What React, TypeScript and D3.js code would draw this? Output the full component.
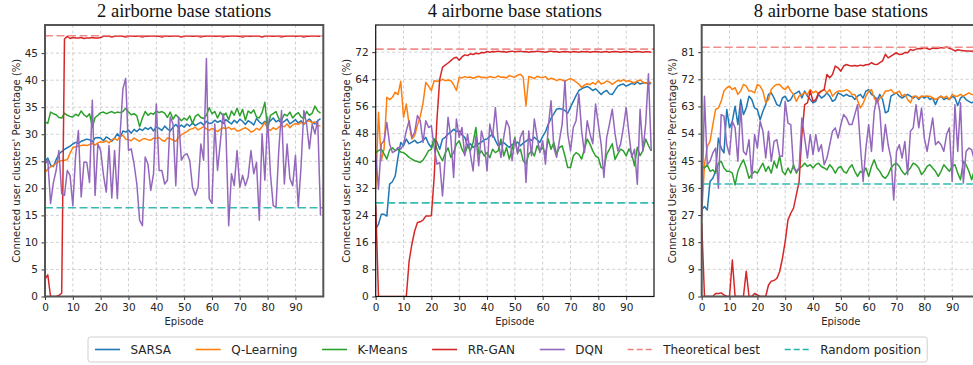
import { useEffect, useRef } from 'react';

import * as d3 from 'd3';

const W = 973;
const H = 365;
const FONT = '"DejaVu Sans", sans-serif';

const plotTop = 25;
const plotBottom = 296.5;
const plotW = 278.3;
const panelLeft = [45, 375.7, 701.7];

const episodes = d3.range(100);
const xTicks = [0, 10, 20, 30, 40, 50, 60, 70, 80, 90];

const titles = ['2 airborne base stations', '4 airborne base stations', '8 airborne base stations'];
const yLabels = [
    "Connected user clusters' Percentage (%)",
    "Connected user clusters' Percentage (%)",
    "Connected User clusters' Percentage (%)"
];
const yMaxes = [50.2, 80, 90];
const yTicks2 = [0, 5, 10, 15, 20, 25, 30, 35, 40, 45];
const yTicks4 = [0, 8, 16, 24, 32, 40, 48, 56, 64, 72];
const yTicks8 = [0, 9, 18, 27, 36, 45, 54, 63, 72, 81];

const seriesNames = ['SARSA', 'Q-Learning', 'K-Means', 'RR-GAN', 'DQN'];
const seriesColors = ['#1f77b4', '#ff7f0e', '#2ca02c', '#d62728', '#9467bd'];
const refNames = ['Theoretical best', 'Random position'];
const refColors = ['#f08080', '#20b2aa'];

const theoreticalBest = [48.2, 72.9, 82.6];
const randomPosition = [16.4, 27.6, 37.3];

// 2 airborne base stations
const sarsa2 = [
    25.0, 25.6, 24.3, 24.0, 25.3, 26.3, 26.8, 27.2, 27.5, 27.8,
    28.2, 28.5, 28.3, 28.7, 28.9, 29.1, 29.0, 28.6, 29.3, 29.4,
    29.3, 28.8, 29.5, 29.2, 28.7, 29.3, 30.1, 29.4, 30.6, 30.4,
    30.8, 30.2, 30.9, 30.5, 31.0, 30.7, 31.2, 30.9, 31.3, 30.6,
    31.4, 31.1, 30.7, 31.5, 31.0, 30.6, 31.3, 31.8, 31.2, 31.7,
    31.3, 31.9, 31.5, 32.1, 31.6, 31.9, 32.2, 31.7, 32.4, 32.0,
    32.1, 32.6, 32.2, 32.5, 32.0, 32.7, 32.3, 31.9, 32.6, 32.1,
    32.8, 32.4, 31.8, 32.5, 32.2, 31.7, 32.9, 32.3, 31.9, 32.4,
    32.0, 32.5, 33.0, 32.3, 32.6, 32.0, 32.4, 32.8, 31.9, 32.3,
    32.7, 32.1, 32.5, 31.8, 32.4, 32.8, 32.2, 31.9, 32.5, 32.9
];
const qlearn2 = [
    23.0, 23.5, 24.0, 24.2, 24.6, 25.0, 25.1, 25.2, 25.3, 26.5,
    27.5, 27.7, 27.8, 27.9, 28.0, 27.9, 28.1, 28.3, 28.0, 28.4,
    28.6, 28.5, 28.8, 28.4, 29.0, 29.2, 28.9, 29.6, 29.8, 29.1,
    29.0, 28.8, 29.3, 29.0, 28.7, 29.1, 29.2, 29.0, 28.9, 29.3,
    29.2, 29.4, 28.9, 28.7, 29.3, 29.2, 28.9, 28.7, 29.4, 29.9,
    30.2, 30.5, 30.9, 31.0, 31.3, 30.8, 31.1, 31.4, 31.0, 30.7,
    31.1, 30.8, 30.5, 30.9, 31.2, 31.0, 31.3, 30.9, 31.1, 30.6,
    30.7, 31.0, 31.2, 30.9, 30.4, 30.6, 31.1, 30.8, 31.4, 32.2,
    31.0, 30.7, 31.2, 30.9, 31.3, 31.6, 31.4, 31.9, 31.2, 31.7,
    32.0, 31.8, 32.2, 31.9, 32.3, 32.5, 32.1, 32.3, 31.6, 31.5
];
const kmeans2 = [
    32.3, 32.0, 34.1, 33.8, 33.6, 33.1, 33.0, 33.9, 33.5, 33.3,
    33.2, 33.7, 33.4, 34.3, 33.6, 33.2, 33.8, 31.3, 33.1, 33.5,
    34.0, 34.1, 33.8, 34.0, 34.2, 33.9, 34.1, 34.0, 34.2, 34.8,
    34.1, 33.6, 33.8, 33.4, 31.4, 33.0, 34.2, 33.5, 33.9, 33.7,
    34.3, 34.0, 34.2, 33.9, 33.1, 34.1, 32.8, 33.6, 33.1, 32.5,
    33.0, 32.6, 33.4, 32.0, 33.3, 33.7, 33.1, 32.9, 33.5, 34.9,
    33.8, 34.2, 33.0, 34.1, 33.4, 33.9, 32.7, 34.3, 33.5, 34.8,
    33.4, 34.6, 32.6, 34.3, 33.9, 34.5, 33.2, 33.0, 34.0, 35.9,
    30.8, 33.5, 33.8, 34.2, 32.9, 32.6, 33.7, 33.4, 34.1, 33.0,
    33.6, 34.0, 33.2, 32.9, 34.2, 33.5, 33.9, 35.2, 34.3, 33.9
];
const rrgan2 = [
    3.2, 4.0, 0, 0, 0, 0.2, 0.6, 47.6, 48.1, 47.7,
    47.9, 47.8, 47.8, 47.9, 47.7, 47.8, 47.8, 47.9, 47.8, 47.8,
    47.9, 48.1, 48.1, 48.1, 48.0, 48.1, 48.1, 48.1, 48.1, 48.0,
    48.1, 48.1, 48.1, 48.1, 48.1, 48.0, 48.1, 48.1, 48.1, 48.1,
    48.1, 48.1, 48.0, 48.1, 48.1, 48.1, 48.1, 48.1, 48.1, 48.0,
    48.1, 48.1, 48.1, 48.1, 48.1, 48.1, 48.0, 48.1, 48.1, 48.1,
    48.1, 48.1, 48.1, 48.1, 48.0, 48.1, 48.1, 48.1, 48.1, 48.1,
    48.1, 48.0, 48.1, 48.1, 48.1, 48.1, 48.1, 48.1, 48.0, 48.1,
    48.1, 48.1, 48.1, 48.1, 48.1, 48.0, 48.1, 48.1, 48.1, 48.1,
    48.1, 48.1, 48.1, 48.0, 48.1, 48.1, 48.1, 48.1, 48.1, 48.1
];
const dqn2 = [
    24.5, 25.2, 17.2, 21.0, 23.3, 27.0, 19.0, 18.7, 23.3, 22.4,
    16.8, 26.0, 30.7, 18.4, 24.8, 24.8, 21.1, 36.3, 18.7, 28.2,
    27.0, 22.5, 19.3, 27.9, 18.2, 27.0, 18.1, 30.1, 38.4, 40.3,
    27.0, 27.3, 24.5, 20.8, 14.1, 13.1, 25.8, 24.5, 19.6, 22.7,
    35.6, 23.3, 23.3, 20.8, 21.5, 33.2, 31.9, 20.5, 33.2, 25.2,
    26.1, 26.4, 25.2, 20.2, 18.7, 20.2, 28.2, 25.2, 44.0, 18.1,
    17.2, 31.9, 23.3, 28.5, 33.8, 30.7, 13.1, 22.7, 20.5, 27.0,
    20.2, 22.4, 20.5, 22.1, 27.0, 22.7, 24.8, 14.1, 30.1, 21.5,
    33.2, 22.7, 16.8, 16.5, 27.0, 34.4, 20.8, 28.2, 21.8, 20.5,
    26.1, 16.5, 24.0, 34.4, 31.9, 27.3, 31.9, 30.1, 32.6, 15.0
];

// 4 airborne base stations
const sarsa4 = [
    19.8, 21.3, 24.2, 24.2, 23.7, 33.1, 33.8, 35.5, 41.0, 45.4,
    44.4, 46.4, 45.0, 45.5, 46.0, 45.2, 45.5, 46.0, 46.9, 45.0,
    43.9, 46.4, 45.5, 43.4, 46.4, 46.9, 47.9, 48.4, 49.3, 48.6,
    48.8, 47.6, 46.9, 44.4, 45.0, 43.9, 44.6, 45.0, 45.5, 46.2,
    46.4, 47.2, 47.9, 46.0, 44.4, 45.0, 45.4, 44.6, 43.9, 44.8,
    44.9, 45.5, 44.4, 45.2, 45.8, 46.4, 46.0, 46.9, 46.2, 45.4,
    47.2, 48.5, 50.8, 52.5, 53.8, 55.2, 55.4, 55.2, 54.8, 54.0,
    55.8, 57.5, 59.2, 60.7, 61.2, 61.6, 61.9, 61.4, 60.7, 61.2,
    60.4, 59.5, 60.3, 60.7, 59.7, 59.5, 60.8, 62.0, 62.4, 62.6,
    62.0, 62.4, 62.8, 62.5, 63.2, 62.6, 62.9, 63.0, 62.6, 62.8
];
const qlearn4 = [
    31.6, 54.3, 40.0, 43.5, 58.7, 58.0, 58.7, 60.2, 59.5, 63.4,
    52.8, 56.7, 50.8, 46.4, 47.4, 50.5, 53.0, 57.0, 63.1, 62.0,
    60.7, 63.6, 63.4, 63.6, 64.0, 63.6, 63.8, 63.6, 62.4, 60.7,
    64.6, 64.4, 64.8, 64.5, 64.7, 64.3, 64.6, 64.9, 64.5, 64.6,
    64.4, 64.8, 64.6, 64.5, 65.0, 64.6, 64.7, 64.4, 65.1, 64.8,
    64.6, 65.2, 65.5, 64.6, 56.2, 64.8, 64.6, 64.2, 64.9, 64.6,
    64.5, 64.8, 63.9, 64.3, 64.1, 63.6, 64.0, 63.8, 63.4, 63.9,
    64.2, 63.8, 63.2, 62.6, 61.6, 62.3, 62.7, 62.4, 63.0, 62.5,
    63.6, 62.6, 62.9, 63.5, 63.2, 62.5, 63.1, 63.7, 63.4, 63.9,
    63.4, 63.6, 63.2, 63.0, 63.5, 63.8, 63.2, 62.8, 63.1, 63.0
];
const kmeans4 = [
    42.4, 43.0, 43.4, 42.0, 40.5, 43.2, 43.8, 43.0, 43.4, 42.6,
    42.4, 41.8, 41.0, 40.5, 40.0, 39.8, 39.5, 40.2, 41.5, 43.0,
    43.4, 46.4, 43.4, 41.5, 40.0, 42.3, 43.8, 41.0, 42.5, 44.9,
    45.9, 43.4, 41.9, 44.4, 42.9, 45.4, 49.8, 41.9, 42.9, 41.4,
    42.4, 40.9, 43.4, 42.4, 42.9, 46.4, 41.4, 43.9, 40.5, 43.4,
    46.9, 42.4, 43.4, 40.0, 39.0, 42.0, 42.9, 41.4, 44.4, 42.9,
    43.9, 41.9, 46.4, 43.4, 45.4, 42.0, 43.9, 44.4, 41.4, 38.0,
    38.0, 41.4, 42.4, 41.9, 40.5, 43.4, 46.4, 44.9, 42.9, 41.4,
    40.9, 38.0, 37.7, 41.9, 43.4, 45.0, 40.4, 42.0, 43.4, 42.9,
    41.4, 43.5, 42.0, 38.5, 44.0, 41.5, 43.0, 46.4, 44.5, 42.9
];
const rrgan4 = [
    27.0, 0, 0, 0, 0, 0, 0, 0, 0, 0,
    0, 0, 10.4, 15.4, 19.3, 21.8, 22.0, 22.5, 23.7, 23.7,
    23.8, 35.0, 52.0, 64.0, 67.5, 68.2, 68.8, 69.5, 70.2, 70.5,
    69.6, 70.6, 71.2, 71.0, 71.5, 71.3, 71.7, 71.5, 71.9, 71.8,
    72.2, 72.0, 72.2, 72.1, 72.3, 72.1, 72.2, 72.0, 72.2, 72.3,
    72.1, 72.2, 72.3, 72.1, 72.2, 72.0, 72.2, 72.1, 72.3, 72.2,
    72.1, 72.0, 72.2, 72.3, 72.1, 72.2, 72.0, 72.1, 72.2, 72.1,
    72.0, 72.2, 72.1, 72.0, 72.2, 72.1, 72.2, 72.0, 72.1, 72.2,
    72.1, 72.0, 72.1, 72.2, 72.0, 72.1, 72.2, 72.1, 72.0, 72.1,
    72.2, 72.1, 72.0, 72.1, 72.2, 72.1, 72.0, 72.1, 72.1, 72.0
];
const dqn4 = [
    42.0, 31.6, 44.9, 45.9, 51.3, 44.9, 42.4, 42.9, 43.9, 43.4,
    44.9, 48.8, 51.8, 46.9, 48.4, 53.3, 51.8, 45.4, 51.8, 49.8,
    50.3, 44.0, 39.0, 39.5, 29.6, 41.0, 52.8, 46.9, 35.1, 52.3,
    46.9, 49.8, 41.5, 47.9, 42.0, 37.0, 47.4, 38.5, 48.8, 45.4,
    37.0, 50.8, 46.9, 55.7, 45.9, 41.0, 46.9, 51.8, 49.8, 40.0,
    46.4, 42.0, 47.0, 48.8, 33.6, 48.8, 41.5, 52.3, 46.9, 42.4,
    45.9, 39.0, 49.8, 57.7, 43.9, 41.0, 45.9, 50.8, 63.6, 47.9,
    42.9, 49.8, 51.8, 59.7, 48.8, 42.4, 51.8, 47.9, 45.0, 56.7,
    50.8, 44.9, 35.1, 46.9, 50.8, 55.2, 47.9, 42.9, 44.9, 49.8,
    55.7, 47.9, 41.0, 43.4, 33.1, 55.2, 42.9, 50.8, 65.6, 42.9
];

// 8 airborne base stations
const sarsa8 = [
    28.7, 29.8, 28.7, 38.1, 39.2, 41.5, 52.5, 49.2, 47.6, 62.0,
    55.9, 58.1, 63.1, 57.0, 65.3, 60.3, 62.5, 66.4, 65.3, 62.5,
    62.0, 58.6, 61.4, 63.6, 67.0, 67.5, 65.8, 63.6, 63.1, 65.8,
    66.4, 64.7, 65.3, 67.0, 67.5, 68.1, 65.8, 68.1, 66.4, 65.3,
    64.2, 64.7, 67.0, 65.8, 66.4, 67.5, 66.4, 64.7, 65.3, 67.5,
    67.0, 66.4, 67.0, 66.4, 66.4, 65.3, 66.4, 67.0, 65.8, 68.1,
    68.6, 67.0, 66.4, 64.7, 67.0, 65.3, 60.9, 61.4, 66.4, 67.0,
    67.5, 66.4, 65.8, 66.4, 67.0, 66.4, 65.8, 66.4, 65.3, 66.4,
    65.8, 66.4, 65.3, 65.8, 63.6, 65.8, 66.4, 65.3, 65.8, 65.3,
    66.4, 65.8, 63.3, 65.8, 66.4, 65.3, 64.7, 64.2, 64.7, 64.5
];
const qlearn8 = [
    27.0, 43.7, 49.8, 51.4, 57.0, 62.0, 62.5, 64.7, 68.1, 69.2,
    69.7, 68.6, 69.2, 67.0, 68.1, 70.3, 69.7, 68.1, 68.1, 67.5,
    70.3, 69.7, 68.1, 64.2, 65.3, 68.6, 69.7, 70.3, 70.3, 69.2,
    68.6, 69.7, 68.1, 67.0, 64.7, 66.4, 67.0, 67.5, 67.0, 68.6,
    67.5, 68.1, 67.0, 68.1, 68.6, 67.5, 68.6, 66.4, 67.5, 68.1,
    68.1, 68.1, 68.6, 68.1, 67.0, 67.0, 65.0, 62.5, 64.0, 66.4,
    68.1, 68.6, 65.8, 64.2, 65.8, 66.4, 68.1, 68.1, 68.6, 67.5,
    67.5, 68.1, 66.4, 67.0, 65.3, 64.2, 66.4, 66.4, 65.8, 66.4,
    66.4, 66.4, 66.4, 65.8, 65.3, 65.8, 66.4, 65.8, 66.4, 65.3,
    67.0, 66.4, 66.4, 67.0, 66.4, 67.0, 67.5, 67.0, 66.8, 67.0
];
const kmeans8 = [
    43.1, 42.6, 43.7, 41.5, 42.0, 40.9, 44.2, 44.8, 42.6, 41.5,
    41.5, 40.9, 37.0, 41.5, 43.7, 45.3, 42.6, 39.2, 40.4, 41.5,
    40.9, 42.6, 44.2, 41.5, 43.1, 40.9, 44.8, 42.6, 46.5, 41.5,
    40.4, 42.6, 40.9, 43.7, 40.9, 42.6, 43.1, 44.2, 43.1, 43.7,
    42.6, 43.7, 44.2, 43.1, 42.6, 42.0, 43.7, 42.6, 40.9, 42.6,
    43.1, 41.5, 40.9, 42.6, 43.7, 41.5, 39.8, 41.5, 40.9, 42.6,
    39.8, 43.1, 45.3, 42.6, 41.5, 39.8, 39.2, 40.4, 42.6, 43.7,
    44.2, 43.1, 41.5, 40.4, 41.5, 42.6, 44.2, 43.7, 42.6, 40.4,
    41.5, 43.1, 43.7, 42.6, 41.5, 39.8, 41.5, 43.7, 42.6, 41.5,
    43.1, 43.7, 40.9, 38.7, 44.8, 43.7, 41.5, 38.7, 42.0, 41.0
];
const rrgan8 = [
    24.3, 0, 0, 0, 0, 1.0, 1.0, 1.2, 0.5, 0,
    0, 12.1, 0, 0, 0, 0, 8.4, 0, 0, 1.0,
    0.5, 0, 0, 0, 3.8, 5.1, 5.3, 6.0, 8.2, 12.6,
    18.2, 25.4, 27.6, 29.3, 33.7, 38.1, 53.7, 63.6, 64.2, 68.1,
    64.7, 65.3, 67.5, 68.1, 68.6, 73.6, 72.5, 73.6, 76.4, 75.8,
    74.7, 76.4, 76.9, 76.6, 76.4, 76.6, 76.4, 76.7, 76.5, 76.8,
    76.9, 77.5, 77.0, 76.9, 77.5, 78.1, 80.3, 79.1, 79.7, 80.3,
    80.8, 80.2, 80.3, 80.9, 80.8, 81.9, 81.6, 82.0, 82.2, 82.1,
    82.5, 82.2, 81.9, 82.4, 82.2, 82.3, 82.5, 82.4, 82.7, 82.3,
    81.9, 81.4, 81.8, 81.6, 81.5, 81.4, 81.4, 81.3, 81.4, 81.3
];
const dqn8 = [
    25.9, 66.4, 43.7, 44.8, 47.6, 49.2, 35.9, 60.3, 59.8, 50.3,
    47.0, 58.1, 55.9, 44.8, 63.1, 48.1, 47.0, 52.0, 39.2, 53.7,
    49.2, 58.1, 54.8, 45.9, 54.8, 44.8, 51.4, 52.0, 46.5, 46.5,
    64.7, 57.5, 57.0, 42.6, 41.5, 42.6, 59.2, 52.5, 45.9, 53.7,
    47.0, 53.7, 48.1, 50.3, 43.7, 45.9, 50.3, 54.8, 55.9, 52.5,
    57.0, 60.3, 59.2, 57.0, 57.0, 60.3, 63.6, 50.3, 38.1, 49.2,
    57.0, 48.1, 61.4, 65.9, 61.4, 48.1, 57.0, 50.3, 45.9, 32.0,
    48.1, 50.3, 45.9, 51.4, 40.4, 54.8, 55.9, 63.6, 55.9, 62.5,
    52.5, 48.1, 53.7, 59.2, 50.3, 51.4, 50.3, 48.1, 53.7, 55.9,
    38.1, 63.6, 48.1, 64.2, 37.6, 48.1, 49.2, 48.7, 45.0, 50.0
];

const panels = [
    { yTicks: yTicks2, series: [sarsa2, qlearn2, kmeans2, rrgan2, dqn2], spine: '#555', spineW: 2 },
    { yTicks: yTicks4, series: [sarsa4, qlearn4, kmeans4, rrgan4, dqn4], spine: '#111', spineW: 1.2 },
    { yTicks: yTicks8, series: [sarsa8, qlearn8, kmeans8, rrgan8, dqn8], spine: '#555', spineW: 2 }
];

export default function App() {
    const ref = useRef<SVGSVGElement>(null);

    useEffect(() => {
        const svg = d3.select(ref.current);
        svg.selectAll('*').remove();

        panels.forEach((p, i) => {
            const left = panelLeft[i];
            const x = d3.scaleLinear().domain([0, 100]).range([left, left + plotW]);
            const y = d3.scaleLinear().domain([0, yMaxes[i]]).range([plotBottom, plotTop]);
            const g = svg.append('g');

            const clipId = `clip-${i}`;
            g.append('clipPath')
                .attr('id', clipId)
                .append('rect')
                .attr('x', left)
                .attr('y', plotTop)
                .attr('width', plotW)
                .attr('height', plotBottom - plotTop);

            // grid
            const grid = g.append('g').attr('stroke', '#c4c4c4').attr('stroke-width', 0.8).attr('stroke-dasharray', '3,2.5');
            grid.selectAll('.gx')
                .data(xTicks)
                .join('line')
                .attr('x1', (d) => x(d))
                .attr('x2', (d) => x(d))
                .attr('y1', plotTop)
                .attr('y2', plotBottom);
            grid.selectAll('.gy')
                .data(p.yTicks)
                .join('line')
                .attr('x1', left)
                .attr('x2', left + plotW)
                .attr('y1', (d) => y(d))
                .attr('y2', (d) => y(d));

            // series
            const lines = g.append('g').attr('clip-path', `url(#${clipId})`);
            const line = d3
                .line<number>()
                .x((_d, k) => x(episodes[k]))
                .y((d) => y(d));
            p.series.forEach((s, k) => {
                lines.append('path').datum(s).attr('fill', 'none').attr('stroke', seriesColors[k]).attr('stroke-width', 1.5).attr('stroke-linejoin', 'round').attr('d', line);
            });

            // reference lines
            [theoreticalBest[i], randomPosition[i]].forEach((v, k) => {
                lines.append('line')
                    .attr('x1', x(0))
                    .attr('x2', x(100))
                    .attr('y1', y(v))
                    .attr('y2', y(v))
                    .attr('stroke', refColors[k])
                    .attr('stroke-opacity', 0.9)
                    .attr('stroke-width', 1.6)
                    .attr('stroke-dasharray', '8,3.5');
            });

            // axes
            const styleAxis = (a: d3.Selection<SVGGElement, unknown, null, undefined>) => {
                a.attr('font-size', 10.5).attr('font-family', FONT);
                a.select('.domain').remove();
                a.selectAll('.tick line').attr('stroke', '#333');
                a.selectAll('.tick text').attr('fill', '#262626');
            };
            g.append('g')
                .attr('transform', `translate(0,${plotBottom})`)
                .call(d3.axisBottom(x).tickValues(xTicks).tickSize(3.5).tickPadding(3.5))
                .call(styleAxis);
            g.append('g')
                .attr('transform', `translate(${left},0)`)
                .call(d3.axisLeft(y).tickValues(p.yTicks).tickSize(3.5).tickPadding(3.5))
                .call(styleAxis);

            // spines
            g.append('rect')
                .attr('x', left)
                .attr('y', plotTop)
                .attr('width', plotW)
                .attr('height', plotBottom - plotTop)
                .attr('fill', 'none')
                .attr('stroke', p.spine)
                .attr('stroke-width', p.spineW);

            // labels
            g.append('text')
                .attr('x', left + plotW / 2)
                .attr('y', 17)
                .attr('text-anchor', 'middle')
                .attr('font-family', '"Liberation Serif", "DejaVu Serif", serif')
                .attr('font-size', 18.5)
                .attr('fill', '#111')
                .text(titles[i]);
            g.append('text')
                .attr('x', left + plotW / 2)
                .attr('y', 325)
                .attr('text-anchor', 'middle')
                .attr('font-family', FONT)
                .attr('font-size', 10)
                .attr('fill', '#262626')
                .text('Episode');
            g.append('text')
                .attr('transform', `translate(${left - 29},${(plotTop + plotBottom) / 2}) rotate(-90)`)
                .attr('text-anchor', 'middle')
                .attr('dy', '0.35em')
                .attr('font-family', FONT)
                .attr('font-size', 10)
                .attr('fill', '#262626')
                .text(yLabels[i]);
        });

        // legend, laid out from measured text widths
        const legend = svg.append('g');
        const names = [...seriesNames, ...refNames];
        const colors = [...seriesColors, ...refColors];
        const ly = 349.5;
        let cx = 95;
        names.forEach((name, k) => {
            legend.append('line')
                .attr('x1', cx)
                .attr('x2', cx + 25)
                .attr('y1', ly)
                .attr('y2', ly)
                .attr('stroke', colors[k])
                .attr('stroke-width', 1.6)
                .attr('stroke-dasharray', k >= seriesNames.length ? '6,3' : null);
            const t = legend.append('text')
                .attr('x', cx + 35.5)
                .attr('y', ly)
                .attr('dy', '0.35em')
                .attr('font-family', FONT)
                .attr('font-size', 12)
                .attr('fill', '#262626')
                .text(name);
            const w = (t.node() as SVGTextElement).getComputedTextLength();
            cx += 35.5 + w + 24.7;
        });
        legend.insert('rect', ':first-child')
            .attr('x', 88)
            .attr('y', 337)
            .attr('width', cx - 24.7 + 6 - 88)
            .attr('height', 25)
            .attr('rx', 2.5)
            .attr('fill', '#fff')
            .attr('stroke', '#cfcfcf');
    }, []);

    return <svg ref={ref} width={W} height={H} style={{ position: 'absolute', left: 0, top: 0, background: '#fff' }} />;
}
